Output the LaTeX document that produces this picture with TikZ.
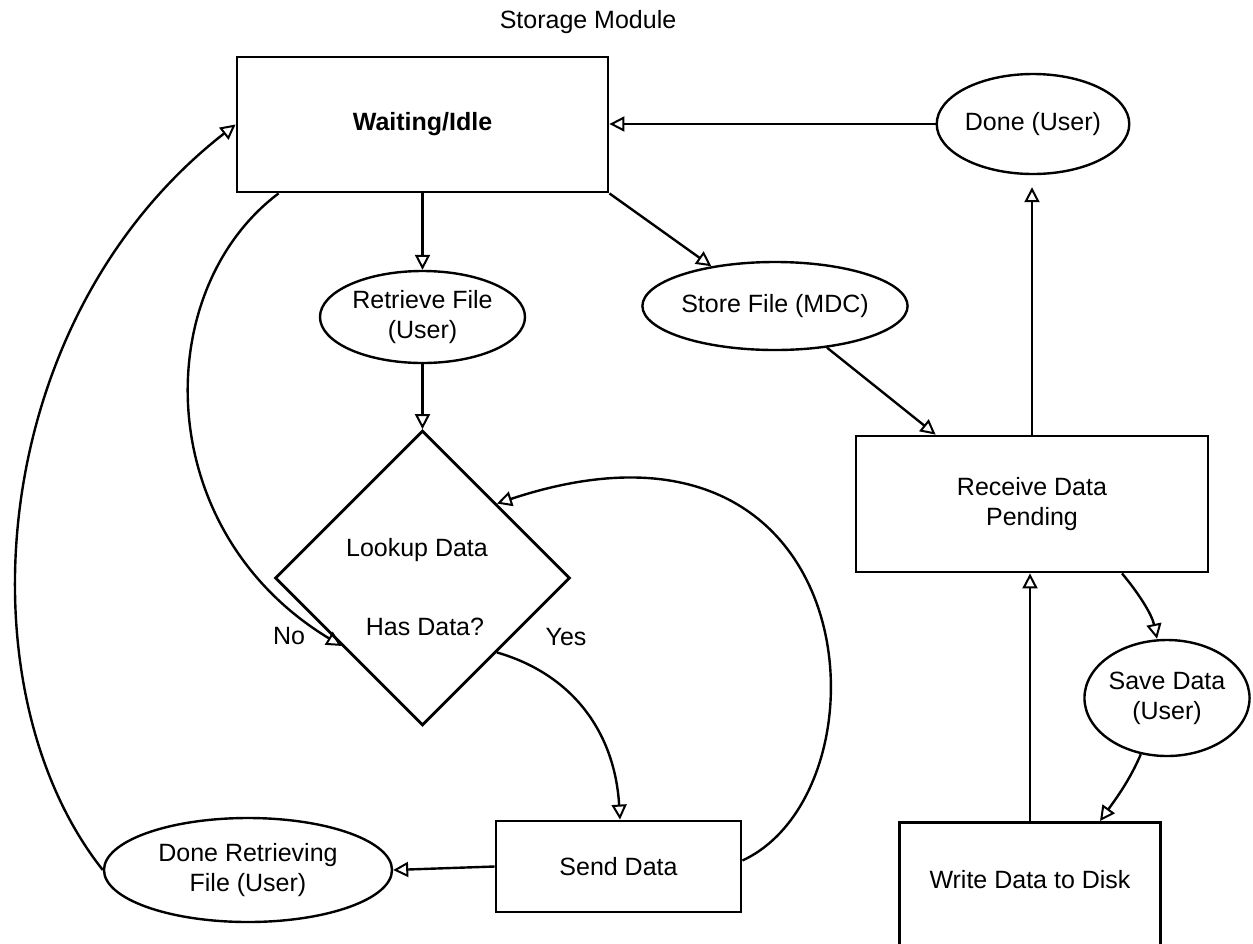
\documentclass[tikz,border=0pt]{standalone}
\usepackage{fontspec}
\setmainfont{Liberation Sans}
\usetikzlibrary{shapes.geometric,arrows.meta}
\begin{document}
\begin{tikzpicture}[x=1pt,y=-1pt,
  font=\fontsize{25}{30}\selectfont,
  box/.style={draw, rectangle, line width=2.8pt, inner sep=0pt, align=center},
  oval/.style={draw, ellipse, line width=2.4pt, inner sep=0pt, align=center},
  conn/.style={line width=2.4pt,
    -{Triangle[open, length=15pt, width=15pt, line width=2pt]}}]

% page area
\path[use as bounding box, fill=white] (0,0) rectangle (1253,943);

% title
\node (title) at (588,22) {Storage Module};

% states and events
\node[box, minimum width=371pt, minimum height=135pt,
      font=\fontsize{25}{30}\selectfont\bfseries] (wait) at (422.5,124.5) {Waiting/Idle};
\node[oval, minimum width=184pt, minimum height=100pt] (done) at (1033,124) {Done (User)};
\node[oval, minimum width=205pt, minimum height=92pt] (ret) at (422.5,317) {Retrieve File\\(User)};
\node[oval, minimum width=260pt, minimum height=88pt] (store) at (775,306) {Store File (MDC)};

\node[draw, diamond, line width=2.8pt, inner sep=0pt,
      minimum width=295pt, minimum height=295pt] (look) at (422.5,578) {};
\node (lookt) at (417,550) {Lookup Data};
\node (hast) at (425,627) {Has Data?};
\node (no) at (289,636) {No};
\node (yes) at (566,637) {Yes};

\node[box, minimum width=352pt, minimum height=136pt] (rec) at (1032,504) {Receive Data\\Pending};
\node[oval, minimum width=165pt, minimum height=116pt] (save) at (1167,698) {Save Data\\(User)};
\node[draw, rectangle, line width=2.8pt, anchor=north, inner xsep=0pt, inner ysep=0pt,
      minimum width=261pt, text height=66pt, text depth=73pt] (write) at (1030,821) {Write Data to Disk};

\node[box, minimum width=245pt, minimum height=91pt] (send) at (618.5,866.5) {Send Data};
\node[oval, minimum width=288pt, minimum height=104pt] (dret) at (248,870) {Done Retrieving\\File (User)};

% transitions
\draw[conn] (done.west) -- (wait.east |- done.west);
\draw[conn] (wait.south) -- (ret.north);
\draw[conn] (ret.south) -- (look.north);
\draw[conn] (wait.south east) -- (store.148);
\draw[conn] (store) -- ([xshift=81pt]rec.north west);
\draw[conn, shorten >=12pt] (rec.north) -- (rec.north |- done.south);
\draw[conn] (write.north) -- (write.north |- rec.south);
\draw[conn] ([xshift=90pt]rec.south) .. controls (1140,595) and (1152,615) .. ([xshift=-10pt]save.north);
\draw[conn] (save.245) .. controls (1130,780) and (1115,800) .. ([xshift=70pt]write.north);
\draw[conn] (send.west) -- (dret.east);
\draw[conn] (dret.west) .. controls (-40,690) and (-15,320) .. (wait.west);
\draw[conn] ([xshift=43pt]wait.south west) .. controls (150,290) and (150,530) .. (look.220);
\draw[conn] ([yshift=6pt]send.east) .. controls (895,790) and (870,380) .. (look.45);
\draw[conn] (look.-45) .. controls (575,675) and (615,735) .. ([xshift=1.5pt]send.north);
\end{tikzpicture}
\end{document}
